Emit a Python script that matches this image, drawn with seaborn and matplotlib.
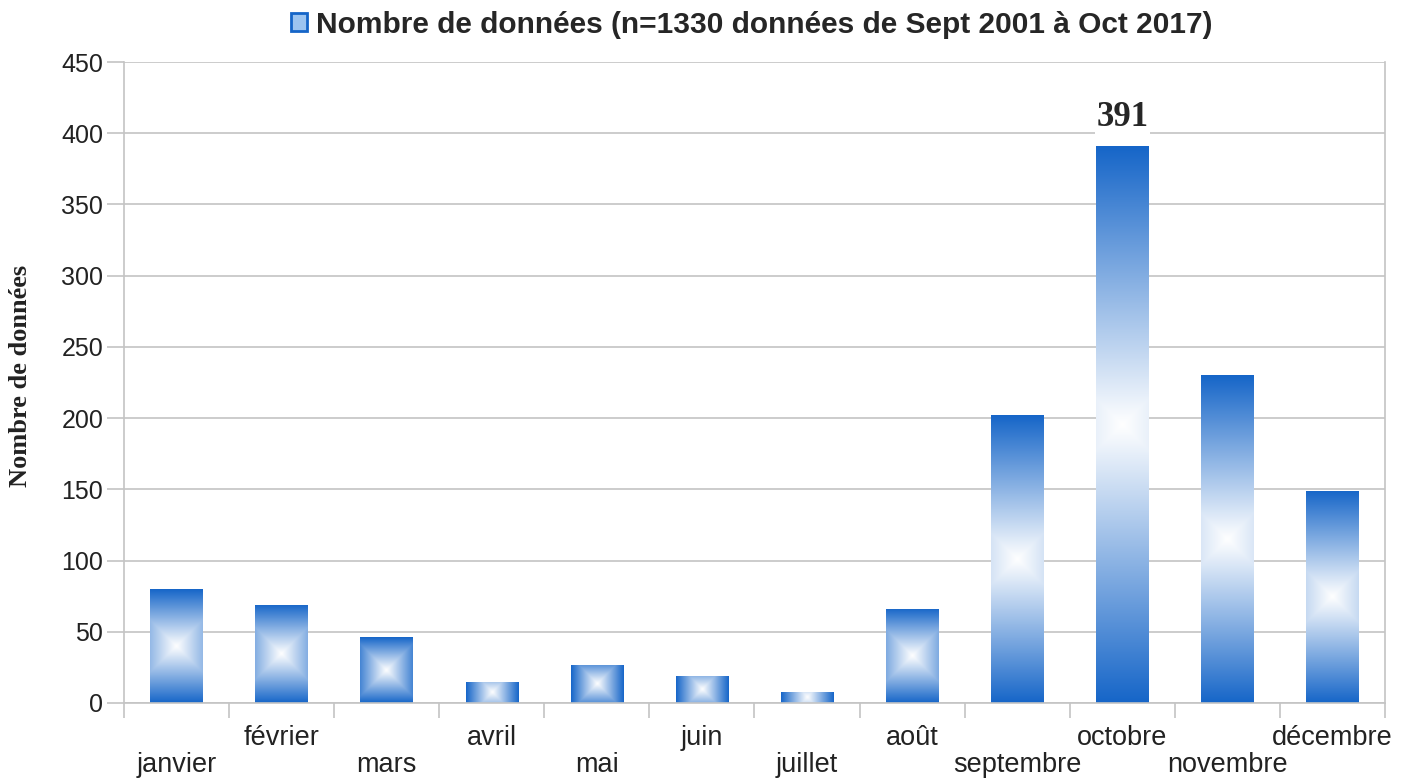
import numpy as np
import seaborn as sns
import matplotlib.pyplot as plt
import matplotlib.transforms as mtransforms
from matplotlib.patches import Patch
from matplotlib.colors import to_rgb

months = ['janvier', 'février', 'mars', 'avril', 'mai', 'juin', 'juillet',
          'août', 'septembre', 'octobre', 'novembre', 'décembre']
counts = [80, 69, 46, 15, 27, 19, 8, 66, 202, 391, 230, 149]
yticks = [0, 50, 100, 150, 200, 250, 300, 350, 400, 450]
legend_label = 'Nombre de données (n=1330 données de Sept 2001 à Oct 2017)'
ylabel = 'Nombre de données'

BLUE = '#1565c8'
GRID = '#c4c4c4'

sns.set_theme(style='white')
plt.rcParams['font.family'] = ['Liberation Sans', 'DejaVu Sans']

fig = plt.figure(figsize=(14.05, 7.78), dpi=100)
ax = fig.add_axes([124 / 1405, 1 - 703 / 778, 1261 / 1405, 641 / 778])

sns.barplot(x=months, y=counts, width=0.5, color=BLUE, ax=ax, zorder=2)
ax.set_xlim(-0.5, len(months) - 0.5)
ax.set_ylim(0, 450)

# rectangular gradient fill: blue at the edges, white in the middle
ax_w_px = 1261
ax_h_px = 641
blue = np.array(to_rgb(BLUE))
for p in ax.patches:
    x0, y0 = p.get_x(), p.get_y()
    w, h = p.get_width(), p.get_height()
    if h <= 0:
        continue
    wpx = max(int(w * ax_w_px / len(months)), 2)
    hpx = max(int(h * ax_h_px / 450), 2)
    half = max(wpx, hpx) / 2
    yy, xx = np.mgrid[0:hpx, 0:wpx]
    dx = np.abs(xx + 0.5 - wpx / 2)
    dy = np.abs(yy + 0.5 - hpx / 2)
    t = np.clip(np.maximum(dx, dy) / half, 0, 1)[..., None]
    img = (1 - t) * np.ones(3) + t * blue
    p.set_facecolor('none')
    p.set_edgecolor('none')
    im = ax.imshow(img, extent=(x0, x0 + w, y0, y0 + h), origin='lower',
                   aspect='auto', interpolation='bilinear', zorder=2)
    im.set_clip_path(p)

# label only the highest bar
labels = [str(v) if v == max(counts) else '' for v in counts]
ax.bar_label(ax.containers[0], labels=labels, padding=9,
             fontsize=25, fontweight='bold', family='Liberation Serif',
             bbox=dict(facecolor='white', edgecolor='none', pad=1), zorder=4)

ax.set_yticks(yticks)
ax.yaxis.grid(True, color=GRID, linewidth=1.2, zorder=0)
ax.set_axisbelow(True)

ax.set_xticks(range(len(months)))
ax.set_xticklabels(months)
ax.set_xticks(np.arange(-0.5, len(months), 1), minor=True)
ax.tick_params(axis='x', which='major', length=0, pad=16, labelsize=19.5,
               labelcolor='#222222')
ax.tick_params(axis='x', which='minor', bottom=True, length=11, width=1.2,
               color=GRID)
ax.tick_params(axis='y', left=True, length=12, width=1.2, color=GRID,
               pad=3, labelsize=18, labelcolor='#222222')

# staggered month labels: every other one goes one row lower
shift = mtransforms.ScaledTranslation(0, -0.27, fig.dpi_scale_trans)
for i, lab in enumerate(ax.get_xticklabels()):
    if i % 2 == 0:
        lab.set_transform(lab.get_transform() + shift)

for side in ['left', 'bottom', 'right', 'top']:
    ax.spines[side].set_color(GRID)
    ax.spines[side].set_linewidth(1.2)
ax.spines['top'].set_visible(False)

ax.set_ylabel(ylabel, family='Liberation Serif', fontweight='bold',
              fontsize=19, color='#222222')
ax.yaxis.set_label_coords(-0.073, 0.51)

handle = Patch(facecolor='#9cc4f0', edgecolor=BLUE, linewidth=2)
fig.legend([handle], [legend_label], loc='center', bbox_to_anchor=(0.535, 0.968),
           frameon=False, handlelength=0.55, handleheight=0.55, handletextpad=0.3,
           prop=dict(size=21.5, weight='bold'))

fig.savefig('out.png', dpi=100)
